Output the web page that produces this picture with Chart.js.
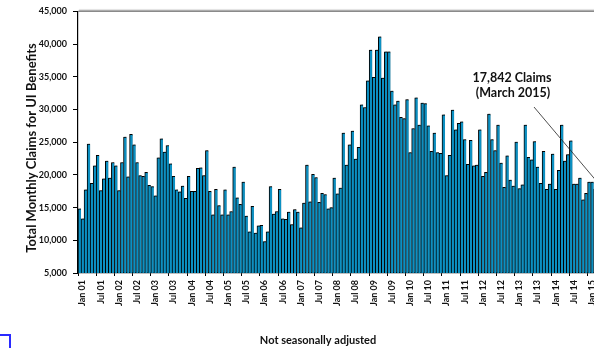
<!DOCTYPE html>
<html>
<head>
<meta charset="utf-8">
<script src="https://cdn.jsdelivr.net/npm/chart.js@4/dist/chart.umd.min.js"></script>
<style>
  html, body { margin: 0; padding: 0; background: #fff; overflow: hidden; width: 594px; height: 348px; }
  #wrap { position: absolute; left: 0; top: 0; width: 610px; height: 348px; }
  #corner { position: absolute; left: 0; top: 334px; width: 9px; height: 16px;
            border-top: 2px solid #2a2aff; border-right: 2px solid #2a2aff; }
</style>
</head>
<body>
<div id="wrap"><canvas id="c" width="610" height="348"></canvas></div>
<div id="corner"></div>
<script>
// Month and year parts of the category labels
const monthNames = ['Jan', 'Feb', 'Mar', 'Apr', 'May', 'Jun', 'Jul', 'Aug', 'Sep', 'Oct', 'Nov', 'Dec'];
const years = ['01', '02', '03', '04', '05', '06', '07', '08', '09', '10', '11', '12', '13', '14', '15'];

// Total monthly claims for UI benefits, Jan 2001 - Mar 2015 (not seasonally adjusted)
const claims2001 = [14800, 13300, 17700, 24700, 18700, 21400, 23000, 17600, 19400, 22100, 19500, 21900];
const claims2002 = [21400, 17600, 21900, 25800, 19700, 26200, 24600, 21900, 19900, 19800, 20400, 18400];
const claims2003 = [18200, 16800, 22600, 25500, 23500, 24500, 21700, 19800, 17700, 17400, 18300, 16400];
const claims2004 = [19800, 17500, 17500, 21000, 21100, 19900, 23700, 17500, 13900, 17800, 15300, 13900];
const claims2005 = [17700, 13900, 14400, 21200, 16500, 15500, 18900, 13700, 11300, 15200, 11100, 12200];
const claims2006 = [12300, 9800, 11300, 18200, 14000, 14400, 17800, 13300, 13200, 14300, 12400, 14700];
const claims2007 = [14300, 11900, 15700, 21500, 15900, 20100, 19600, 15800, 17200, 17000, 14800, 15000];
const claims2008 = [19500, 17100, 18000, 26400, 21500, 24600, 26700, 22400, 24200, 30700, 30300, 34400];
const claims2009 = [39100, 34900, 39100, 41100, 34800, 38800, 38800, 32800, 30700, 31300, 28800, 28600];
const claims2010 = [31500, 23400, 27100, 31800, 27600, 31000, 30900, 27500, 23600, 26400, 23400, 23300];
const claims2011 = [29200, 19900, 23000, 29900, 26900, 27900, 28100, 25400, 21600, 25300, 21400, 21500];
const claims2012 = [26900, 19800, 20400, 29300, 25400, 23700, 27600, 21800, 18100, 22900, 19200, 18300];
const claims2013 = [25000, 17900, 18500, 27600, 22700, 22300, 25100, 21200, 18700, 23600, 17800, 18600];
const claims2014 = [23200, 17800, 20700, 27600, 22100, 23100, 25200, 18600, 18600, 19500, 16200, 17200];
const claims2015 = [18900, 18900, 17842];

const claims = [].concat(claims2001, claims2002, claims2003, claims2004, claims2005, claims2006,
  claims2007, claims2008, claims2009, claims2010, claims2011, claims2012, claims2013, claims2014, claims2015);

// Category labels "Jan 01" ... "Mar 15"
const categories = [];
years.forEach(y => monthNames.forEach(m => categories.push(m + ' ' + y)));
categories.length = claims.length;

const yMin = 5000, yMax = 45000, yStep = 5000;
const yTitle = 'Total Monthly Claims for UI Benefits';
const xTitle = 'Not seasonally adjusted';
const noteLines = ['17,842 Claims', '(March 2015)'];
const noteIndex = claims.length - 1;

const FONT = 'Lato, "Open Sans", sans-serif';

// Soft shadow behind the bars
const barShadow = {
  id: 'barShadow',
  beforeDatasetsDraw(chart) {
    const ctx = chart.ctx;
    ctx.save();
    ctx.shadowColor = 'rgba(0,0,0,0.35)';
    ctx.shadowOffsetX = 1;
    ctx.shadowOffsetY = -1;
    ctx.shadowBlur = 1;
  },
  afterDatasetsDraw(chart) {
    chart.ctx.restore();
  }
};

// Plot frame, axis titles and the March 2015 callout
const decorations = {
  id: 'decorations',
  beforeDatasetsDraw(chart) {
    const { ctx, chartArea: a } = chart;
    ctx.save();
    ctx.strokeStyle = '#8a8a8a';
    ctx.lineWidth = 1.4;
    ctx.beginPath();
    ctx.moveTo(a.left, a.top);
    ctx.lineTo(a.right, a.top);
    ctx.lineTo(a.right, a.bottom);
    ctx.stroke();
    ctx.restore();
  },
  afterDraw(chart) {
    const { ctx } = chart;
    ctx.save();
    ctx.fillStyle = '#111';
    ctx.textAlign = 'center';

    // y-axis title
    ctx.save();
    ctx.translate(35.5, 148);
    ctx.rotate(-Math.PI / 2);
    ctx.font = 'bold 13px ' + FONT;
    ctx.textBaseline = 'alphabetic';
    ctx.fillText(yTitle, 0, 0);
    ctx.restore();

    // x-axis note
    ctx.font = 'bold 11px ' + FONT;
    ctx.textBaseline = 'alphabetic';
    ctx.fillText(xTitle, 318, 344);

    // callout text
    ctx.font = 'bold 12.5px ' + FONT;
    ctx.fillText(noteLines[0], 512, 82);
    ctx.fillText(noteLines[1], 513, 97);

    // callout leader line to the March 2015 bar
    const bar = chart.getDatasetMeta(0).data[noteIndex];
    ctx.strokeStyle = '#222';
    ctx.lineWidth = 0.8;
    ctx.beginPath();
    ctx.moveTo(534, 107);
    ctx.lineTo(bar.x + 8, bar.y);
    ctx.stroke();
    ctx.restore();
  }
};

new Chart(document.getElementById('c'), {
  type: 'bar',
  data: {
    labels: categories,
    datasets: [{
      data: claims,
      backgroundColor: '#0c90c2',
      borderColor: '#000',
      borderWidth: { top: 1, left: 1, right: 0, bottom: 0 },
      borderSkipped: false,
      barPercentage: 1,
      categoryPercentage: 1
    }]
  },
  options: {
    responsive: false,
    devicePixelRatio: 1,
    animation: false,
    events: [],
    layout: { padding: { top: 10, right: 10, bottom: 0, left: 0 } },
    plugins: { legend: { display: false }, tooltip: { enabled: false }, title: { display: false } },
    scales: {
      x: {
        type: 'category',
        offset: true,
        afterFit(scale) { scale.height = 75; },
        grid: {
          offset: true,
          drawOnChartArea: false,
          drawTicks: true,
          tickLength: 3,
          color: ctx => (ctx.index % 6 === 0 ? '#000' : 'rgba(0,0,0,0)')
        },
        border: { display: true, color: '#000', width: 1.2 },
        ticks: {
          autoSkip: false,
          minRotation: 90,
          maxRotation: 90,
          padding: 4,
          labelOffset: 3,
          color: '#111',
          font: { family: FONT, size: 9, weight: 'bold' },
          callback(value, index) { return index % 6 === 0 ? categories[index] : ''; }
        }
      },
      y: {
        min: yMin,
        max: yMax,
        afterFit(scale) { scale.width = 78; },
        grid: { drawOnChartArea: false, drawTicks: true, tickLength: 5, color: '#000' },
        border: { display: true, color: '#000', width: 1.2 },
        ticks: {
          stepSize: yStep,
          padding: 6,
          color: '#111',
          font: { family: FONT, size: 9, weight: 'bold' },
          callback: v => v.toLocaleString('en-US')
        }
      }
    }
  },
  plugins: [barShadow, decorations]
});
</script>
</body>
</html>
